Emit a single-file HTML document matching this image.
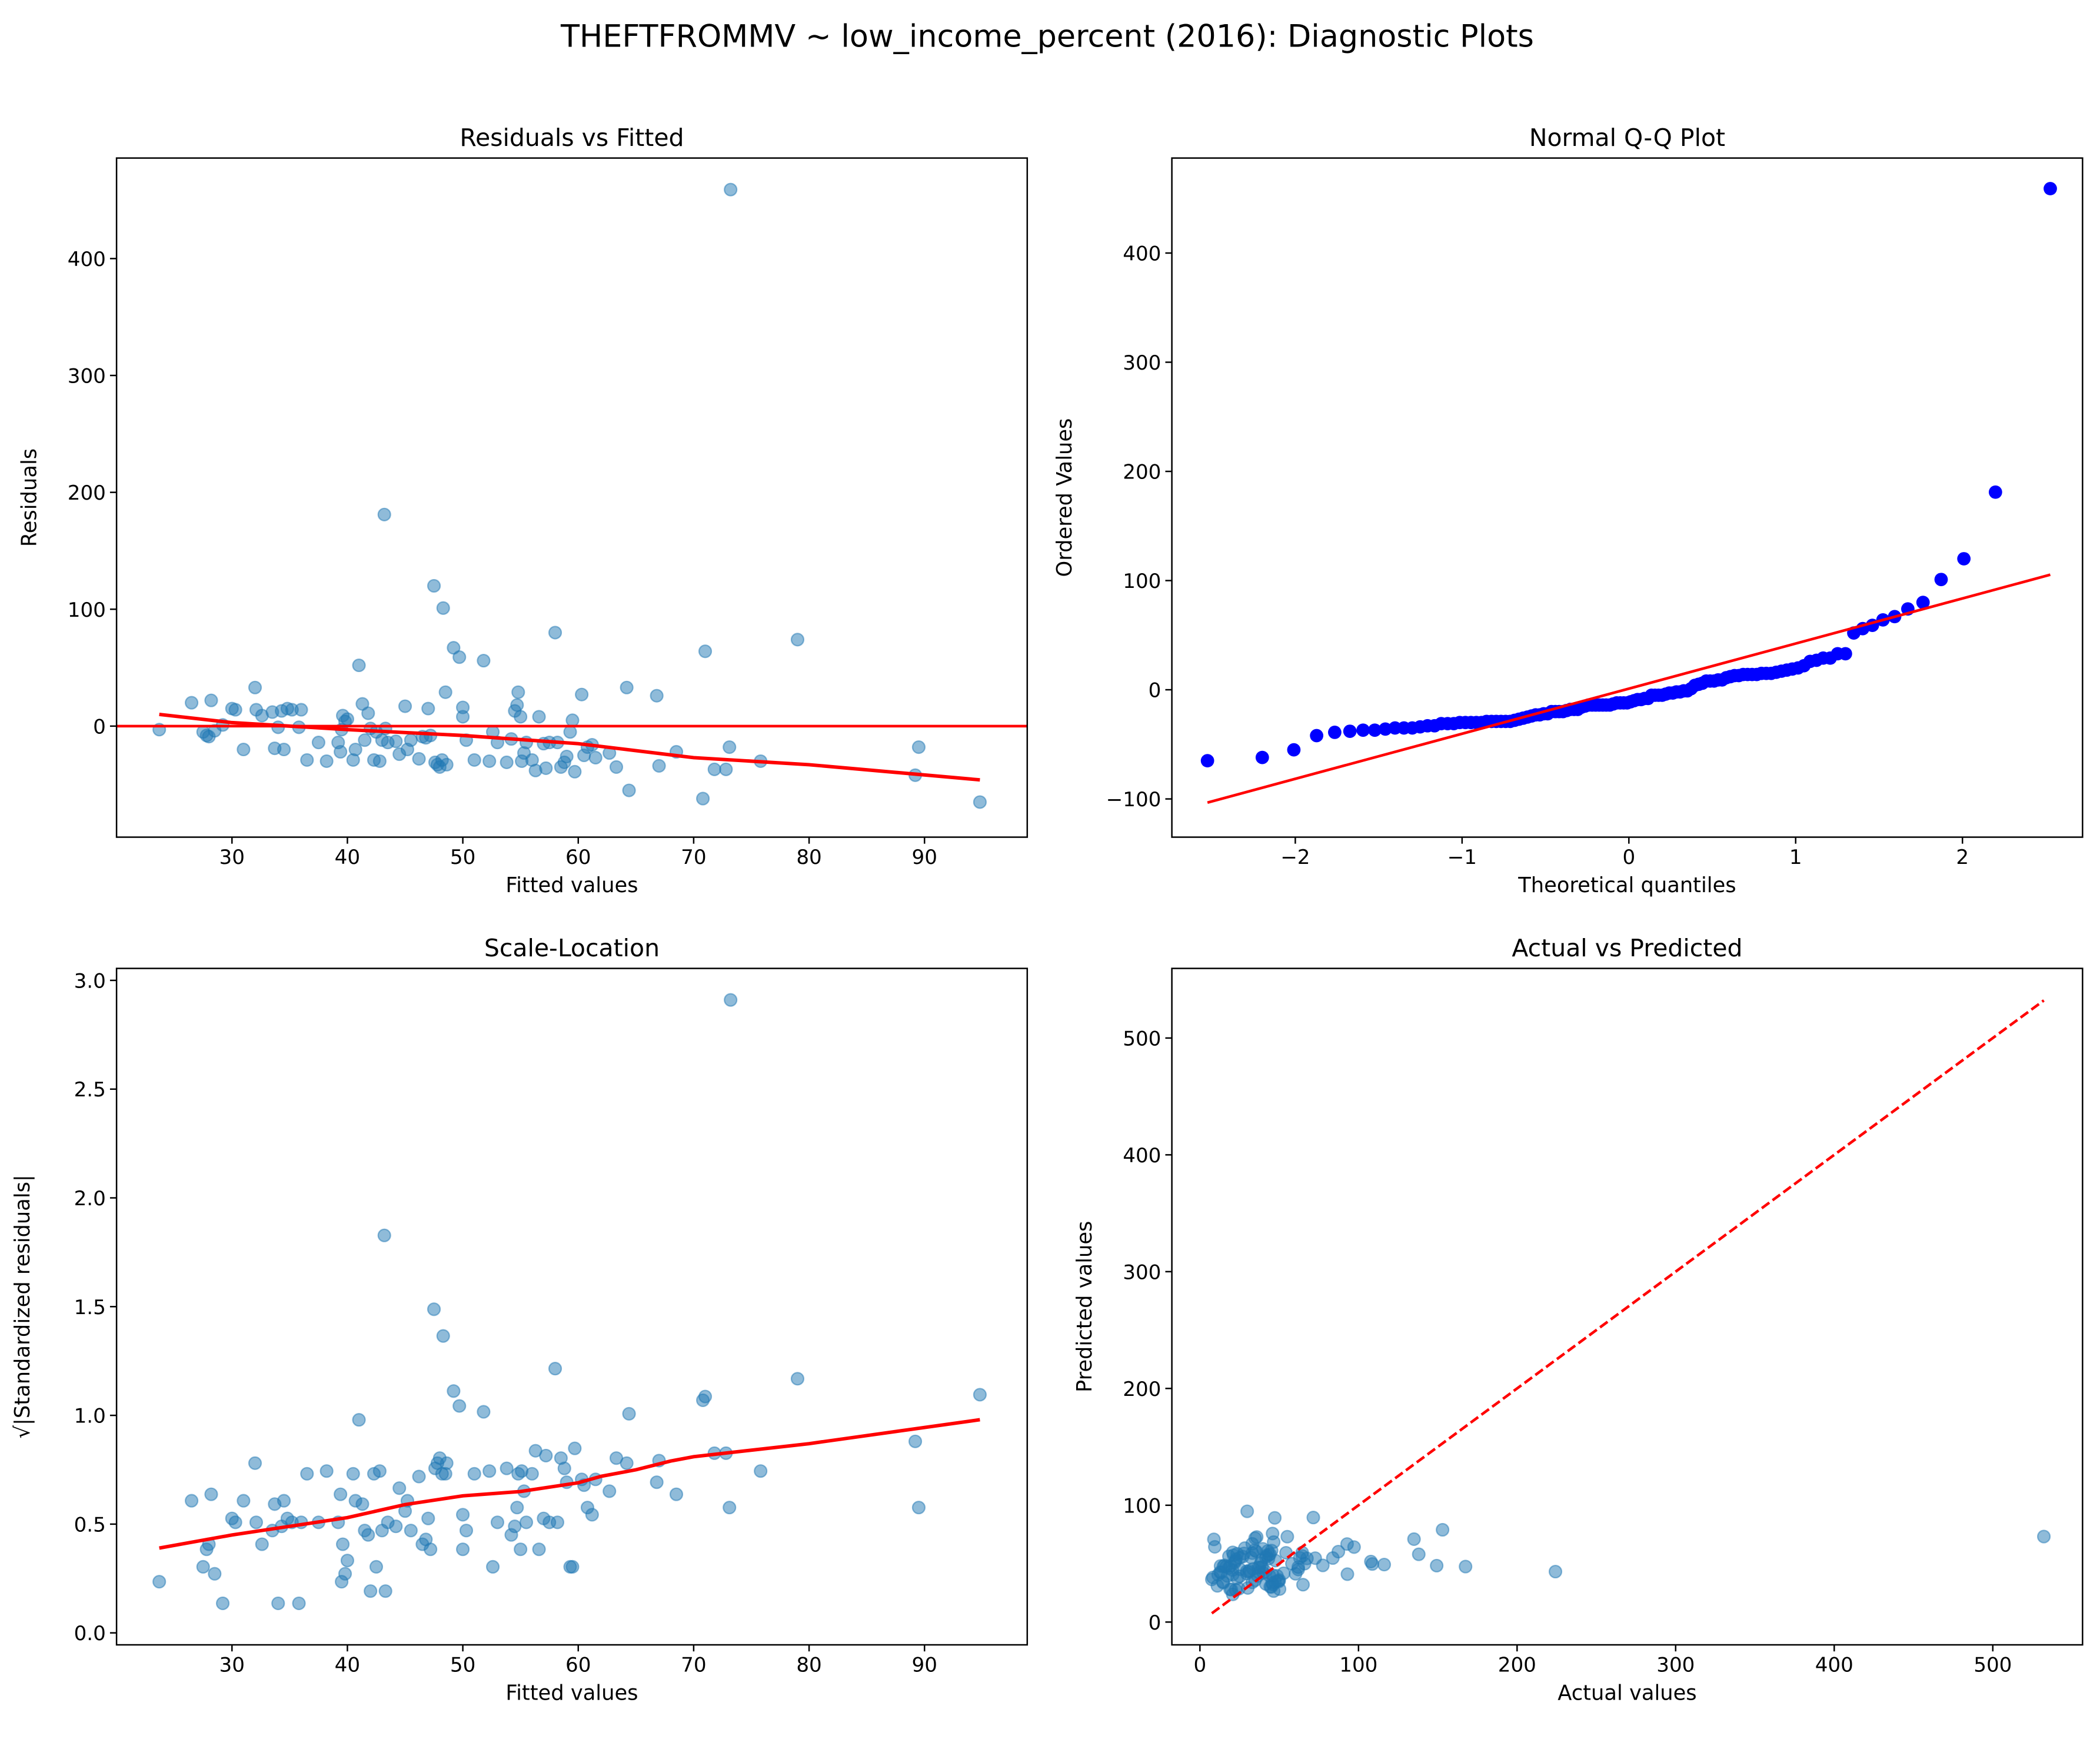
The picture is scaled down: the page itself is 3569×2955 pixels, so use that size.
<!DOCTYPE html>
<html><head><meta charset="utf-8"><style>
html,body{margin:0;padding:0;background:#fff}
svg{display:block}
text{font-family:"DejaVu Sans","Liberation Sans",sans-serif;fill:#000}
</style></head><body>
<svg id="fig" width="3569" height="2955" viewBox="0 0 1568 1298.3" xmlns="http://www.w3.org/2000/svg">
<rect width="1568" height="1299" fill="#fff"/>
<text x="782" y="35" font-size="23" text-anchor="middle">THEFTFROMMV ~ low_income_percent (2016): Diagnostic Plots</text>
</svg>
<script>
// ---- data ----
const fitted = [23.7,26.5,27.5,27.8,28,28.2,28.5,29.2,30,30.3,31,32,32.1,32.6,33.5,33.7,34,34.3,34.5,34.8,35.2,35.8,36,36.5,37.5,38.2,39.2,39.4,39.5,39.6,39.8,40,40.5,40.7,41,41.3,41.5,41.8,42,42.3,42.5,42.8,43,43.2,43.3,43.5,44.2,44.5,45,45.2,45.5,46.2,46.5,46.8,47,47.2,47.5,47.6,47.8,48,48.2,48.3,48.5,48.6,49.2,49.7,50,50,50.3,51,51.8,52.3,52.6,53,53.8,54.2,54.5,54.7,54.8,55,55.1,55.3,55.5,56,56.3,56.6,57,57.2,57.5,58,58.2,58.5,58.8,59,59.3,59.5,59.7,60.3,60.5,60.8,61.2,61.5,62.7,63.3,64.2,64.4,66.8,67,68.5,70.8,71,71.8,72.8,73.1,73.2,75.8,79,89.2,89.5,94.8];
const residuals = [-3,20,-5,-8,-9,22,-4,1,15,14,-20,33,14,9,12,-19,-1,13,-20,15,14,-1,14,-29,-14,-30,-14,-22,-3,9,4,6,-29,-20,52,19,-12,11,-2,-29,-5,-30,-12,181,-2,-14,-13,-24,17,-20,-12,-28,-9,-10,15,-8,120,-31,-33,-35,-29,101,29,-33,67,59,16,8,-12,-29,56,-30,-5,-14,-31,-11,13,18,29,8,-30,-23,-14,-29,-38,8,-15,-36,-14,80,-14,-35,-31,-26,-5,5,-39,27,-25,-18,-16,-27,-23,-35,33,-55,26,-34,-22,-62,64,-37,-37,-18,459,-30,74,-42,-18,-65];
const lowessRX = [23.7,30,40,50,60,70,80,94.8];
const lowessRY = [10,3,-3,-8,-15,-27,-33,-46];
const lowessSX = [23.7,30,40,45,50,55,60,62,65,68,70,80,94.8];
const lowessSY = [0.39,0.45,0.53,0.59,0.63,0.65,0.69,0.72,0.75,0.79,0.81,0.87,0.98];
const residScale = [54.2];
const ticksFit = [30,40,50,60,70,80,90];
const ticksResid = [0,100,200,300,400];
const ticksQX = [-2,-1,0,1,2];
const ticksQY = [-100,0,100,200,300,400];
const ticksSY = [0.0,0.5,1.0,1.5,2.0,2.5,3.0];
const ticksAX = [0,100,200,300,400,500];
const ticksAY = [0,100,200,300,400,500];

const NS="http://www.w3.org/2000/svg";
const fig=document.getElementById('fig');
function el(tag,attrs,parent){const e=document.createElementNS(NS,tag);for(const k in attrs)e.setAttribute(k,attrs[k]);(parent||fig).appendChild(e);return e;}

function invNorm(p){
  const a=[-39.69683028665376,220.9460984245205,-275.9285104469687,138.357751867269,-30.66479806614716,2.506628277459239];
  const b=[-54.47609879822406,161.5858368580409,-155.6989798598866,66.80131188771972,-13.28068155288572];
  const c=[-0.007784894002430293,-0.3223964580411365,-2.400758277161838,-2.549732539343734,4.374664141464968,2.938163982698783];
  const d=[0.007784695709041462,0.3224671290700398,2.445134137142996,3.754408661907416];
  const pl=0.02425;let q,r;
  if(p<pl){q=Math.sqrt(-2*Math.log(p));return (((((c[0]*q+c[1])*q+c[2])*q+c[3])*q+c[4])*q+c[5])/((((d[0]*q+d[1])*q+d[2])*q+d[3])*q+1);}
  if(p>1-pl){q=Math.sqrt(-2*Math.log(1-p));return -(((((c[0]*q+c[1])*q+c[2])*q+c[3])*q+c[4])*q+c[5])/((((d[0]*q+d[1])*q+d[2])*q+d[3])*q+1);}
  q=p-0.5;r=q*q;return (((((a[0]*r+a[1])*r+a[2])*r+a[3])*r+a[4])*r+a[5])*q/(((((b[0]*r+b[1])*r+b[2])*r+b[3])*r+b[4])*r+1);
}

function makeAxes(name,x0,y0,x1,y1,xmin,xmax,ymin,ymax,title,xl,yl,xt,yt,fmtY,ylx){
  const g=el('g',{});
  
  
  const sx=v=>x0+(v-xmin)/(xmax-xmin)*(x1-x0);
  const sy=v=>y1-(v-ymin)/(ymax-ymin)*(y1-y0);
  const clipId=name+'-clip';
  const cp=el('clipPath',{id:clipId},g);el('rect',{x:x0,y:y0,width:x1-x0,height:y1-y0},cp);
  const plot=el('g',{'clip-path':'url(#'+clipId+')'},g);
  
  
  xt.forEach(v=>{const x=sx(v);el('line',{x1:x,x2:x,y1:y1,y2:y1+4.9,stroke:'#000','stroke-width':1.1},g);
    const t=el('text',{x:x,y:y1+20,'font-size':15,'text-anchor':'middle'},g);t.textContent=(v<0?'\u2212'+(-v):v);
    
    });
  yt.forEach(v=>{const y=sy(v);el('line',{x1:x0-4.9,x2:x0,y1:y,y2:y,stroke:'#000','stroke-width':1.1},g);
    const s=fmtY?fmtY(v):(v<0?'\u2212'+(-v):''+v);
    const t=el('text',{x:x0-8,y:y+5.5,'font-size':15,'text-anchor':'end'},g);t.textContent=s;
    
    });
  const tt=el('text',{x:(x0+x1)/2,y:y0-9,'font-size':18,'text-anchor':'middle'},g);tt.textContent=title;
  
  
  const xa=el('text',{x:(x0+x1)/2,y:y1+41,'font-size':15.5,'text-anchor':'middle'},g);xa.textContent=xl;
  
  
  const cy=(y0+y1)/2;
  const ya=el('text',{x:ylx,y:cy,'font-size':15.5,'text-anchor':'middle',transform:'rotate(-90 '+ylx+' '+cy+')'},g);ya.textContent=yl;
  
  
  return {g,plot,sx,sy,frame:()=>el('rect',{x:x0,y:y0,width:x1-x0,height:y1-y0,fill:'none',stroke:'#000','stroke-width':1.1},g)};
}
function scatter(ax,xs,ys,name){
  xs.forEach((x,i)=>{const c=el('circle',{cx:ax.sx(x),cy:ax.sy(ys[i]),r:4.6,fill:'#1f77b4','fill-opacity':0.5,stroke:'#1f77b4','stroke-opacity':0.5,'stroke-width':1},ax.plot);
    
    });
}
function line(ax,xs,ys,attrs,name){
  const p=el('polyline',Object.assign({points:xs.map((x,i)=>ax.sx(x)+','+ax.sy(ys[i])).join(' '),fill:'none'},attrs),ax.plot);
  
  
}

// 1 Residuals vs Fitted
const a1=makeAxes('residuals-vs-fitted',87,118,767,625,20.0,98.9,-95,486,'Residuals vs Fitted','Fitted values','Residuals',ticksFit,ticksResid,null,27);
scatter(a1,fitted,residuals,'residual-point');
line(a1,[20.0,98.9],[0,0],{stroke:'red','stroke-width':2},'zero-line');
line(a1,lowessRX,lowessRY,{stroke:'red','stroke-width':2.6},'lowess-line');
a1.frame();

// 2 Normal Q-Q
const n=residuals.length;
const ordered=residuals.slice().sort((a,b)=>a-b);
const theo=ordered.map((_,i)=>{let m;if(i===0)m=1-Math.pow(0.5,1/n);else if(i===n-1)m=Math.pow(0.5,1/n);else m=(i+1-0.3175)/(n+0.365);return invNorm(m);});
let mx=theo.reduce((a,b)=>a+b,0)/n,my=ordered.reduce((a,b)=>a+b,0)/n,sxy=0,sxx=0;
theo.forEach((t,i)=>{sxy+=(t-mx)*(ordered[i]-my);sxx+=(t-mx)*(t-mx);});
const slope=sxy/sxx,icpt=my-slope*mx;
const a2=makeAxes('normal-qq-plot',875,118,1555,625,-2.74,2.72,-135,487,'Normal Q-Q Plot','Theoretical quantiles','Ordered Values',ticksQX,ticksQY,null,800);
theo.forEach((t,i)=>{const c=el('circle',{cx:a2.sx(t),cy:a2.sy(ordered[i]),r:5,fill:'#0000ff'},a2.plot);
  
  });
line(a2,[theo[0],theo[n-1]],[icpt+slope*theo[0],icpt+slope*theo[n-1]],{stroke:'red','stroke-width':2},'qq-reference-line');
a2.frame();

// 3 Scale-Location
const sl=residuals.map(r=>Math.sqrt(Math.abs(r)/residScale[0]));
const a3=makeAxes('scale-location',87,723,767,1228,20.0,98.9,-0.055,3.055,'Scale-Location','Fitted values','\u221A|Standardized residuals|',ticksFit,ticksSY,v=>v.toFixed(1),22);
scatter(a3,fitted,sl,'scale-location-point');
line(a3,lowessSX,lowessSY,{stroke:'red','stroke-width':2.6},'lowess-line');
a3.frame();

// 4 Actual vs Predicted
const actual=fitted.map((f,i)=>f+residuals[i]);
const amin=Math.min(...actual),amax=Math.max(...actual);
const a4=makeAxes('actual-vs-predicted',875,723,1555,1228,-17.7,556.6,-19.5,559.6,'Actual vs Predicted','Actual values','Predicted values',ticksAX,ticksAY,null,815);
scatter(a4,actual,fitted,'actual-predicted-point');
line(a4,[amin,amax],[amin,amax],{stroke:'red','stroke-width':2,'stroke-dasharray':'7,3'},'identity-line');
a4.frame();
</script>
</body></html>
